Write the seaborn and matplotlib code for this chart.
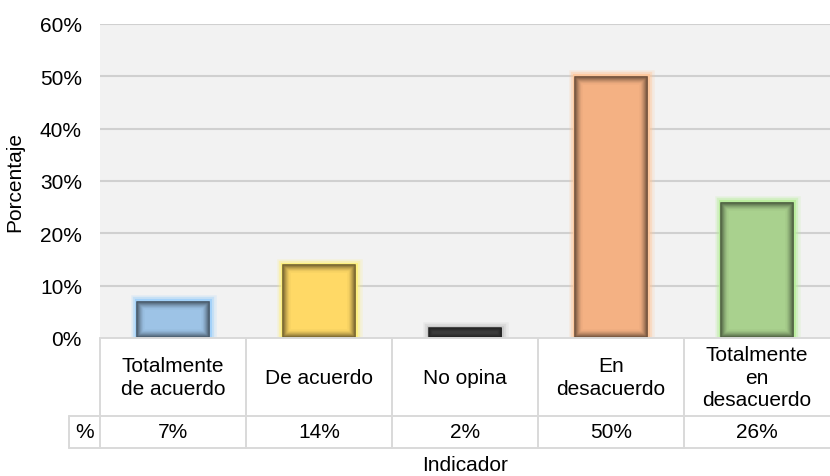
import matplotlib
matplotlib.use("Agg")
import matplotlib.pyplot as plt
import matplotlib.patheffects as pe
from matplotlib.patches import Rectangle
from matplotlib.colors import to_rgb
import seaborn as sns
import numpy as np

categories = ["Totalmente\nde acuerdo", "De acuerdo", "No opina", "En\ndesacuerdo", "Totalmente\nen\ndesacuerdo"]
values = [7, 14, 2, 50, 26]
value_labels = ["7%", "14%", "2%", "50%", "26%"]
bar_colors = ["#9DC3E6", "#FFD966", "#4A4A4A", "#F4B183", "#A9D18E"]
glow_colors = ["#9FD0FA", "#FFF07A", "#C8C8C8", "#FFC79A", "#B8EE9A"]
yticks = [0, 10, 20, 30, 40, 50, 60]

sns.set_style("white")
plt.rcParams["font.family"] = ["Liberation Sans", "DejaVu Sans"]
plt.rcParams["text.color"] = "black"
FS = 15

W, H = 830, 477
fig = plt.figure(figsize=(W / 100, H / 100), dpi=100)
x0, x1, y_top, y_bot = 100, 830, 25, 339
ax = fig.add_axes([x0 / W, 1 - y_bot / H, (x1 - x0) / W, (y_bot - y_top) / H])
ax.set_facecolor("#F2F2F2")

sns.barplot(x=list(range(len(values))), y=values, hue=list(range(len(values))),
            palette=bar_colors, width=0.5, legend=False, ax=ax, zorder=3,
            edgecolor="none", saturation=1)

ax.set_xlim(-0.5, len(values) - 0.5)
ax.set_ylim(0, 60)
ax.set_yticks(yticks)
ax.set_yticklabels([f"{t}%" for t in yticks], fontsize=FS, color="black")
ax.tick_params(axis="y", length=0, pad=13)
ax.set_xticks([])
ax.set_xlabel("")
ax.set_ylabel("Porcentaje", fontsize=FS, color="black")
ax.yaxis.set_label_coords(-0.104, 0.5)
for t in yticks[1:]:
    ax.axhline(t, color="#D0D0D0", lw=1.5, zorder=1)
for s in ax.spines.values():
    s.set_visible(False)

# pixel size in data units
px_x = (len(values)) / (x1 - x0)
px_y = 60 / (y_bot - y_top)

for patch, col, gcol in zip(ax.patches, bar_colors, glow_colors):
    bx, by, bw, bh = patch.get_x(), patch.get_y(), patch.get_width(), patch.get_height()
    patch.set_path_effects([
        pe.Stroke(linewidth=9, foreground=gcol, alpha=0.2),
        pe.Stroke(linewidth=6, foreground=gcol, alpha=0.4),
        pe.Stroke(linewidth=3, foreground=gcol, alpha=0.85),
        pe.Normal(),
    ])
    # inner shadow
    base = np.array(to_rgb(col))
    n = 8
    for k in range(n):
        f = 0.6 * (1 - k / n) ** 1.5
        ec = base * (1 - f)
        inset_x = (k + 0.6) * px_x
        inset_y = (k + 0.6) * px_y
        w = bw - 2 * inset_x
        h = bh - 2 * inset_y
        if w <= 0 or h <= 0:
            continue
        ax.add_patch(Rectangle((bx + inset_x, by + inset_y), w, h, fill=False,
                               edgecolor=ec, lw=1.1, zorder=4))

# data table
line_kw = dict(color="#D9D9D9", lw=1.4, transform=fig.transFigure, clip_on=False)
def fx(px):
    return px / W
def fy(py):
    return 1 - py / H

row1_bot, row2_bot, pct_left = 417, 449, 69
col_w = (x1 - x0) / len(values)
fig.add_artist(plt.Line2D([fx(x0), fx(x1)], [fy(y_bot), fy(y_bot)], **line_kw))
for yy in (row1_bot, row2_bot):
    fig.add_artist(plt.Line2D([fx(pct_left), fx(x1)], [fy(yy), fy(yy)], **line_kw))
for i in range(len(values)):
    xx = x0 + i * col_w
    fig.add_artist(plt.Line2D([fx(xx), fx(xx)], [fy(y_bot), fy(row2_bot)], **line_kw))
fig.add_artist(plt.Line2D([fx(pct_left), fx(pct_left)], [fy(row1_bot), fy(row2_bot)], **line_kw))

for i, (cat, lab) in enumerate(zip(categories, value_labels)):
    cx = x0 + (i + 0.5) * col_w
    fig.text(fx(cx), fy((y_bot + row1_bot) / 2), cat, ha="center", va="center",
             fontsize=FS, linespacing=1.25)
    fig.text(fx(cx), fy((row1_bot + row2_bot) / 2), lab, ha="center", va="center", fontsize=FS)
fig.text(fx((pct_left + x0) / 2), fy((row1_bot + row2_bot) / 2), "%", ha="center", va="center", fontsize=FS)
fig.text(fx((x0 + x1) / 2), fy(466), "Indicador", ha="center", va="center", fontsize=FS)

fig.savefig("out.png", dpi=100, facecolor="white")
